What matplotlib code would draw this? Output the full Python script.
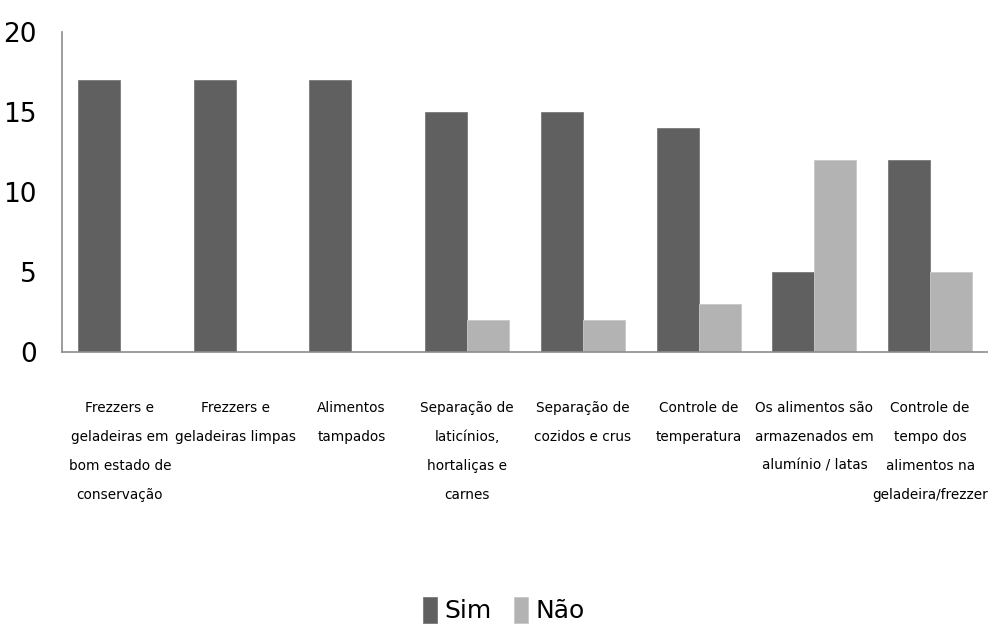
import matplotlib
matplotlib.use("Agg")
import matplotlib.pyplot as plt
import numpy as np

plt.rcParams['font.family'] = ['DejaVu Sans Condensed', 'Liberation Sans Narrow', 'DejaVu Sans']

categories = [
    "Frezzers e\ngeladeiras em\nbom estado de\nconservação",
    "Frezzers e\ngeladeiras limpas",
    "Alimentos\ntampados",
    "Separação de\nlaticínios,\nhortaliças e\ncarnes",
    "Separação de\ncozidos e crus",
    "Controle de\ntemperatura",
    "Os alimentos são\narmazenados em\nalumínio / latas",
    "Controle de\ntempo dos\nalimentos na\ngeladeira/frezzer",
]
sim = [17, 17, 17, 15, 15, 14, 5, 12]
nao = [0, 0, 0, 2, 2, 3, 12, 5]
yticks = [0, 5, 10, 15, 20]

dark = "#606060"
light = "#b3b3b3"

fig = plt.figure(figsize=(9.88, 6.29), dpi=100)
ax = fig.add_axes([62 / 988, 1 - 352 / 629, 1 - 62 / 988, 320 / 629])

x = np.arange(len(categories))
w = 0.363
ax.bar(x - w / 2, sim, w, color=dark, edgecolor="#7a7a7a", linewidth=0.6, label="Sim")
ax.bar(x + w / 2, nao, w, color=light, edgecolor="#c8c8c8", linewidth=0.6, label="Não")

ax.set_xlim(-0.5, len(categories) - 0.5)
ax.set_ylim(0, 20)
ax.set_yticks(yticks)
ax.set_yticklabels([str(t) for t in yticks], fontsize=19)
ax.set_xticks(x)
ax.set_xticklabels(categories, fontsize=9.8, linespacing=2.38, va="top")
ax.tick_params(axis="both", length=0)
ax.tick_params(axis="x", pad=35)
ax.tick_params(axis="y", pad=18)

for s in ["top", "right"]:
    ax.spines[s].set_visible(False)
for s in ["left", "bottom"]:
    ax.spines[s].set_color("#8c8c8c")
    ax.spines[s].set_linewidth(1.2)

fig.legend(loc="center", bbox_to_anchor=(0.51, 1 - 610 / 629), ncol=2,
           frameon=False, fontsize=18, handlelength=0.55, handleheight=1.2,
           handletextpad=0.3, columnspacing=0.9)

fig.savefig("out.png", dpi=100)
